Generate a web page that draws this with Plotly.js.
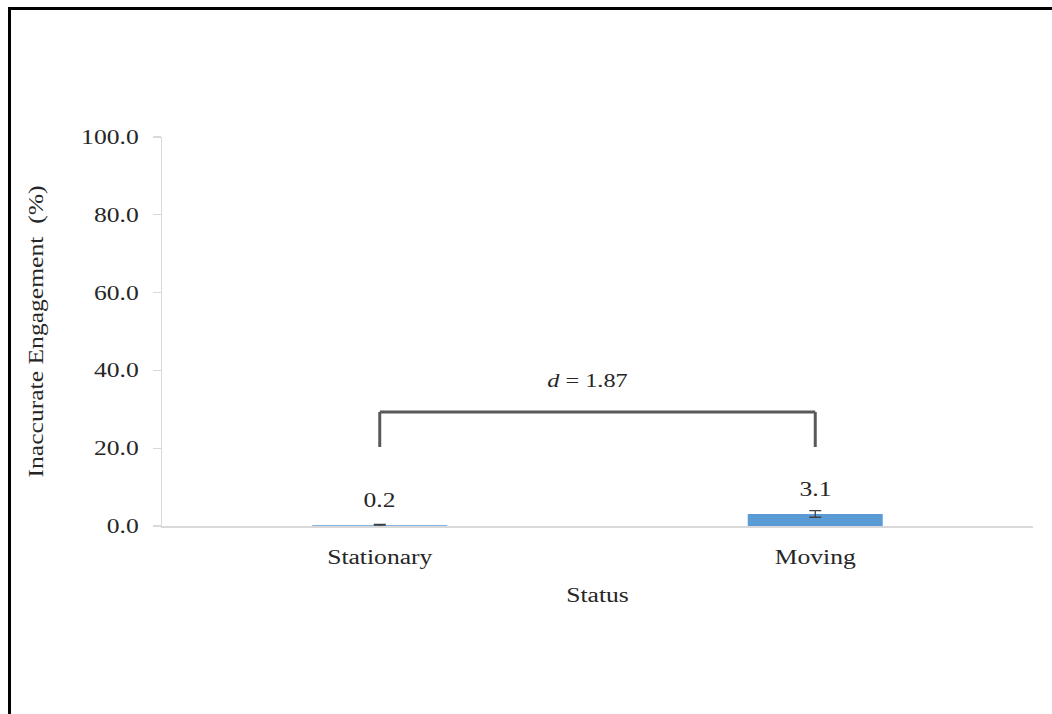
<!DOCTYPE html>
<html>
<head>
<meta charset="utf-8">
<script src="https://cdn.plot.ly/plotly-3.0.1.min.js"></script>
<style>
  html, body { margin: 0; padding: 0; background: #fff; }
  #wrap { position: relative; width: 1052px; height: 714px; overflow: hidden; }
  #chart { position: absolute; left: 0; top: 0; width: 1052px; height: 714px; }
  #frame { position: absolute; left: 8px; top: 7px; width: 1060px; height: 720px;
           border-left: 3px solid #000; border-top: 3px solid #000; pointer-events: none; }
</style>
</head>
<body>
<div id="wrap">
  <div id="chart"></div>
  <div id="frame"></div>
</div>
<script>
// Inaccurate engagement by status
const categories = ['Stationary', 'Moving'];
const meanValues = [0.2, 3.1];
const errorValues = [0.2, 0.85];
const valueLabels = ['0.2', '3.1'];
const yTicks = [0, 20, 40, 60, 80, 100];
const yTickLabels = ['0.0', '20.0', '40.0', '60.0', '80.0', '100.0'];

// Effect-size bracket between the two groups
const bracketTop = 29.3;
const bracketFoot = 20.3;
const bracketLabelY = 37.5;
const effectSize = '1.87';

const serif = "'Liberation Serif', 'Times New Roman', serif";
const textColor = '#262626';
const textStretch = 1.28;   // wide-set lettering, stretched along the text direction

const trace = {
  type: 'bar',
  x: categories,
  y: meanValues,
  width: 0.31,
  marker: { color: '#5B9BD5' },
  error_y: {
    type: 'data',
    array: errorValues,
    visible: true,
    color: '#404040',
    thickness: 1.3,
    width: 6
  },
  hoverinfo: 'none'
};

const annotations = categories.map((c, i) => ({
  x: c, y: meanValues[i], xref: 'x', yref: 'y',
  text: valueLabels[i], showarrow: false,
  yanchor: 'bottom', yshift: 12,
  font: { family: serif, size: 20, color: textColor }
}));
annotations.push({
  x: 0.5, y: bracketLabelY, xref: 'x', yref: 'y',
  text: '<i>d</i> = ' + effectSize, showarrow: false,
  xshift: -10,
  font: { family: serif, size: 19, color: textColor }
});

const bracketStyle = { color: '#595959', width: 3 };
const shapes = [
  { type: 'line', xref: 'x', yref: 'y', x0: 0, x1: 1, y0: bracketTop, y1: bracketTop, line: bracketStyle },
  { type: 'line', xref: 'x', yref: 'y', x0: 0, x1: 0, y0: bracketTop, y1: bracketFoot, line: bracketStyle },
  { type: 'line', xref: 'x', yref: 'y', x0: 1, x1: 1, y0: bracketTop, y1: bracketFoot, line: bracketStyle }
];

const layout = {
  width: 1052,
  height: 714,
  margin: { l: 162, r: 19, t: 137, b: 188 },
  paper_bgcolor: '#fff',
  plot_bgcolor: '#fff',
  showlegend: false,
  font: { family: serif, size: 20, color: textColor },
  xaxis: {
    type: 'category',
    showgrid: false,
    showline: true,
    linecolor: '#d9d9d9',
    linewidth: 2,
    ticks: '',
    tickfont: { family: serif, size: 20, color: textColor },
    ticklabelstandoff: 12,
    title: { text: 'Status', font: { family: serif, size: 20, color: textColor }, standoff: 20 },
    zeroline: false,
    fixedrange: true
  },
  yaxis: {
    range: [0, 100],
    tickvals: yTicks,
    ticktext: yTickLabels,
    showgrid: false,
    zeroline: false,
    showline: true,
    linecolor: '#d9d9d9',
    linewidth: 1.3,
    ticks: 'outside',
    ticklen: 8,
    tickcolor: '#d9d9d9',
    tickwidth: 1.3,
    ticklabelstandoff: 10,
    tickfont: { family: serif, size: 20, color: textColor },
    title: { text: 'Inaccurate Engagement  (%)', font: { family: serif, size: 20, color: textColor }, standoff: 44 },
    fixedrange: true
  },
  annotations: annotations,
  shapes: shapes
};

// Widen every label along its own baseline, keeping its anchor point fixed
function stretchText(gd, s) {
  gd.querySelectorAll('svg text').forEach(t => {
    const bb = t.getBBox();
    if (!bb.width) return;
    const anchor = t.getAttribute('text-anchor') || 'start';
    const cx = anchor === 'end' ? bb.x + bb.width
             : anchor === 'middle' ? bb.x + bb.width / 2
             : bb.x;
    const prev = t.getAttribute('transform') || '';
    t.setAttribute('transform',
      prev + ' translate(' + cx + ',0) scale(' + s + ',1) translate(' + (-cx) + ',0)');
  });
}

Plotly.newPlot('chart', [trace], layout, { displayModeBar: false, staticPlot: true })
  .then(gd => stretchText(gd, textStretch));
</script>
</body>
</html>
